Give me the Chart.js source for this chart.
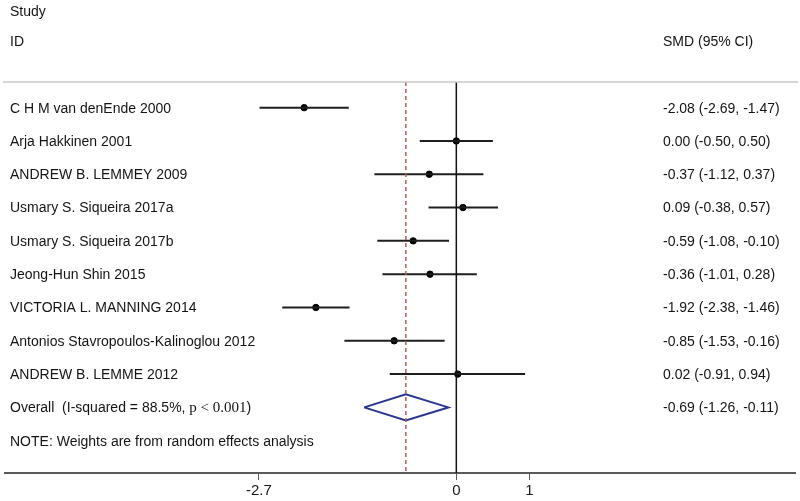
<!DOCTYPE html>
<html>
<head>
<meta charset="utf-8">
<script src="https://cdn.jsdelivr.net/npm/chart.js@4.4.1/dist/chart.umd.min.js"></script>
<style>
  body { margin: 0; background: #fff; }
</style>
</head>
<body>
<canvas id="forest" width="800" height="501"></canvas>
<script>
const studies = [
  'C H M van denEnde 2000',
  'Arja Hakkinen 2001',
  'ANDREW B. LEMMEY 2009',
  'Usmary S. Siqueira 2017a',
  'Usmary S. Siqueira 2017b',
  'Jeong-Hun Shin 2015',
  'VICTORIA L. MANNING 2014',
  'Antonios Stavropoulos-Kalinoglou 2012',
  'ANDREW B. LEMME 2012'
];
const smd   = [-2.08, 0.00, -0.37, 0.09, -0.59, -0.36, -1.92, -0.85, 0.02];
const lower = [-2.69, -0.50, -1.12, -0.38, -1.08, -1.01, -2.38, -1.53, -0.91];
const upper = [-1.47, 0.50, 0.37, 0.57, -0.10, 0.28, -1.46, -0.16, 0.94];
const overall = [-0.69, -1.26, -0.11]; // estimate, lower, upper
const xTicks = [-2.7, 0, 1];

const ctx = document.getElementById('forest');
const fmt = v => v.toFixed(2);
const sans = '"Liberation Sans", Arial, sans-serif';
const rowOverall = studies.length;
const rowNote = studies.length + 1;
const yMin = -0.77, yMax = 10.97;

// CI whiskers, one small line per study
const ciSets = studies.map((s, i) => ({
  type: 'scatter',
  data: [{x: lower[i], y: i}, {x: upper[i], y: i}],
  showLine: true,
  borderColor: '#1e1e1e',
  borderWidth: 2,
  pointRadius: 0
}));

const textPlugin = {
  id: 'texts',
  afterDraw(chart) {
    const c = chart.ctx;
    const y = chart.scales.y;
    const row = v => y.getPixelForValue(v) + 1;
    c.save();
    c.fillStyle = '#141414';
    c.textBaseline = 'middle';
    c.font = '14px ' + sans;
    c.fillText('Study', 10, 12);
    c.fillText('ID', 10, 42);
    c.fillText('SMD (95% CI)', 663, 42);
    studies.forEach((s, i) => {
      const py = row(i);
      c.fillText(s, 10, py);
      c.fillText(fmt(smd[i]) + ' (' + fmt(lower[i]) + ', ' + fmt(upper[i]) + ')', 663, py);
    });
    const po = row(rowOverall);
    let t = 'Overall  (I-squared = 88.5%, ';
    c.fillText(t, 10, po);
    let x = 10 + c.measureText(t).width;
    c.font = '15px "Liberation Serif", "Times New Roman", serif';
    c.fillText('p < 0.001', x, po);
    x += c.measureText('p < 0.001').width;
    c.font = '14px ' + sans;
    c.fillText(')', x, po);
    c.fillText(fmt(overall[0]) + ' (' + fmt(overall[1]) + ', ' + fmt(overall[2]) + ')', 663, po);
    c.fillText('NOTE: Weights are from random effects analysis', 10, row(rowNote));
    // header rule
    c.strokeStyle = '#c8c8c8';
    c.lineWidth = 1.5;
    c.beginPath();
    c.moveTo(3, chart.chartArea.top);
    c.lineTo(798, chart.chartArea.top);
    c.stroke();
    c.restore();
  }
};

new Chart(ctx, {
  type: 'scatter',
  data: {
    datasets: [
      {
        // line of no effect
        data: [{x: 0, y: yMin}, {x: 0, y: yMax}],
        showLine: true,
        borderColor: '#111',
        borderWidth: 1.5,
        pointRadius: 0
      },
      {
        // overall estimate
        data: [{x: overall[0], y: yMin}, {x: overall[0], y: yMax}],
        showLine: true,
        borderColor: '#b0605a',
        borderWidth: 1.5,
        borderDash: [4, 3],
        pointRadius: 0
      },
      ...ciSets,
      {
        data: smd.map((v, i) => ({x: v, y: i})),
        backgroundColor: '#000',
        borderColor: '#000',
        pointRadius: 3.2
      },
      {
        data: [
          {x: overall[1], y: rowOverall},
          {x: overall[0], y: rowOverall - 0.39},
          {x: overall[2], y: rowOverall},
          {x: overall[0], y: rowOverall + 0.39},
          {x: overall[1], y: rowOverall}
        ],
        showLine: true,
        borderColor: '#2a3590',
        borderWidth: 2,
        pointRadius: 0
      }
    ]
  },
  options: {
    responsive: false,
    animation: false,
    layout: { padding: { top: 82, left: 3, right: 3, bottom: 0 } },
    plugins: { legend: { display: false }, tooltip: { enabled: false } },
    scales: {
      x: {
        type: 'linear',
        min: -6.17,
        max: 4.63,
        afterBuildTicks: axis => { axis.ticks = xTicks.map(v => ({value: v})); },
        afterFit: axis => { axis.height = 28; },
        border: { display: true, color: '#5a5a5a', width: 2 },
        grid: { drawOnChartArea: false, drawTicks: true, tickLength: 7, color: '#5a5a5a' },
        ticks: { color: '#1a1a1a', font: { size: 15, family: sans }, padding: 2, maxRotation: 0 }
      },
      y: {
        type: 'linear',
        display: false,
        reverse: true,
        min: yMin,
        max: yMax
      }
    }
  },
  plugins: [textPlugin]
});
</script>
</body>
</html>
